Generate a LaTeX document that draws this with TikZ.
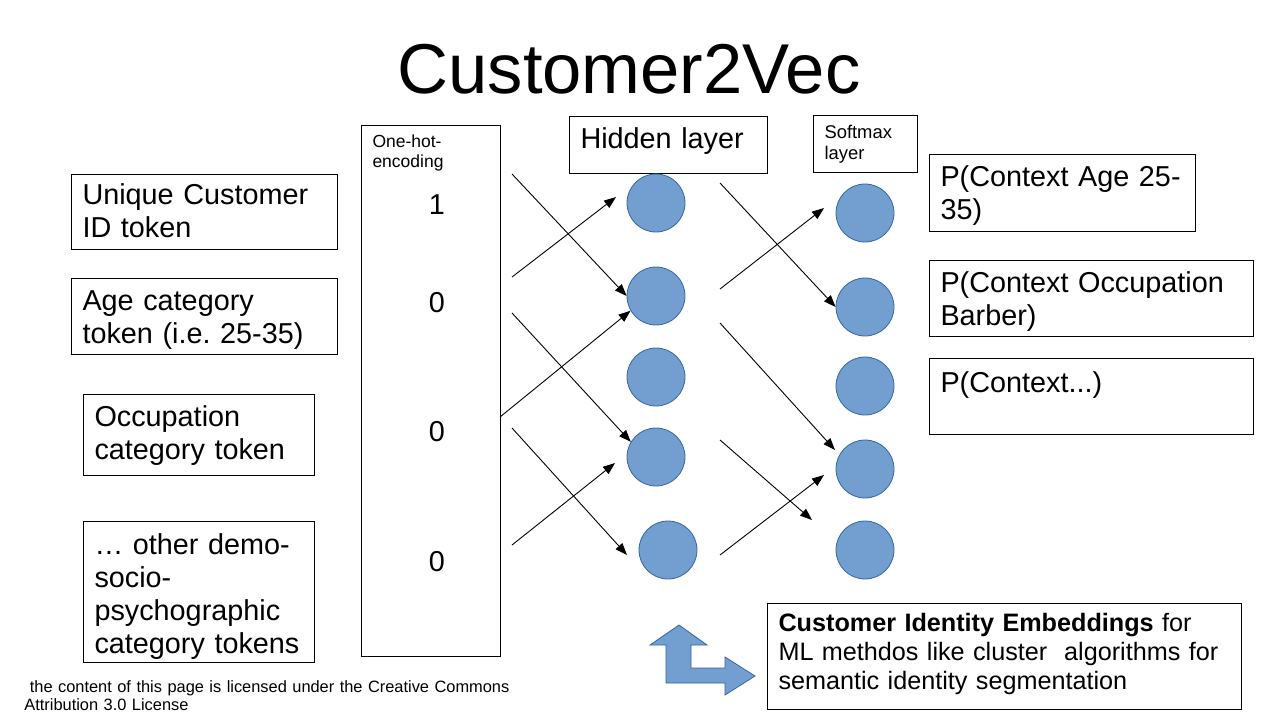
\documentclass[tikz,border=0pt]{standalone}
\usepackage{fontspec}
\setmainfont{Liberation Sans}
\usetikzlibrary{arrows.meta, positioning}

\definecolor{cellblue}{HTML}{729FCF}
\definecolor{celledge}{HTML}{3465A4}

\begin{document}
\begin{tikzpicture}[
  x=0.5pt, y=-0.5pt,
  token/.style={draw, line width=0.5pt, anchor=north west, align=left, inner xsep=5.5pt, inner ysep=0pt, font=\fontsize{14.4}{16.5}\selectfont},
  tag/.style={draw, line width=0.5pt, anchor=north west, align=left, inner xsep=5.5pt, inner ysep=0pt, font=\fontsize{9.2}{10.6}\selectfont},
  digit/.style={inner sep=0pt, font=\fontsize{14.4}{16.5}\selectfont},
  neuron/.style={circle, draw=celledge, fill=cellblue, line width=0.4pt, minimum size=29pt, inner sep=0pt},
  arrow/.style={-{Triangle[length=6pt,width=4.5pt]}, line width=0.45pt}
]
\useasboundingbox (0,0) rectangle (1262,713);

% title
\node[font=\fontsize{35.3}{40}\selectfont, anchor=base] (title) at (629,93) {Customer2Vec};

% input tokens
\node[token, text width=122pt, text height=15pt, text depth=22.5pt] (uid) at (71,174) {Unique Customer\\ID token};
\node[token, text width=122pt, text height=16pt, text depth=22pt] (age) at (71,278) {Age category\\token (i.e.\ 25-35)};
\node[token, text width=104.5pt, text height=16pt, text depth=24.5pt] (occ) at (83,394) {Occupation\\category token};
\node[token, text width=104.5pt, text height=16.5pt, text depth=54pt] (other) at (83,521) {… other demo-\\socio-\\psychographic\\category tokens};

% one-hot column
\node[tag, font=\fontsize{8.75}{9.9}\selectfont, text width=58.5pt, text height=11pt, text depth=254.5pt] (onehot) at (361,125) {One-hot-\\encoding};
\node[digit] (d1) at (437,205) {1};
\node[digit] (d2) at (437,303) {0};
\node[digit] (d3) at (437,432) {0};
\node[digit] (d4) at (437,562) {0};

% layer labels
\node[token, text width=88pt, text height=16pt, text depth=12.5pt] (hidden) at (569,116) {Hidden layer};
\node[tag, text width=41pt, text height=11.25pt, text depth=17.25pt] (softmax) at (813,115) {Softmax\\layer};

% hidden layer
\node[neuron] (h1) at (656,203) {};
\node[neuron] (h2) at (656,296) {};
\node[neuron] (h3) at (656,377) {};
\node[neuron] (h4) at (656,457) {};
\node[neuron] (h5) at (668,550) {};

% softmax layer
\node[neuron] (s1) at (865,213) {};
\node[neuron] (s2) at (865,307) {};
\node[neuron] (s3) at (865,386) {};
\node[neuron] (s4) at (865,469) {};
\node[neuron] (s5) at (865,550) {};

% context outputs
\node[token, text width=122pt, text height=16pt, text depth=22.5pt] (p1) at (929,154) {P(Context Age 25-\\35)};
\node[token, text width=151pt, text height=16pt, text depth=22pt] (p2) at (929,260) {P(Context Occupation\\Barber)};
\node[token, text width=151pt, text height=17pt, text depth=21pt] (p3) at (929,358) {P(Context...)};

% embeddings note
\node[token, font=\fontsize{12.6}{14.5}\selectfont, text width=226pt, text height=14pt, text depth=39pt] (embed) at (767,603) {\textbf{Customer Identity Embeddings} for\\ML methdos like cluster~ algorithms for\\semantic identity segmentation};

% licence line
\node[anchor=base west, align=left, inner sep=0pt, text width=260pt, font=\fontsize{8.2}{9}\selectfont] (lic) at (24,692) {\ the content of this page is licensed under the Creative Commons\\Attribution 3.0 License};

% free arrow ends
\coordinate (in1) at (512,174);
\coordinate (in2) at (512,277);
\coordinate (in3) at (512,313);
\coordinate (in4) at (500,417);
\coordinate (in5) at (512,428);
\coordinate (in6) at (512,545);
\coordinate (e2) at (616,197);
\coordinate (e5) at (627,555);
\coordinate (e6) at (615,463);
\coordinate (m1) at (720,183);
\coordinate (m2) at (720,289);
\coordinate (m3) at (720,323);
\coordinate (m4) at (720,440);
\coordinate (m5) at (720,555);
\coordinate (f2) at (824,208);
\coordinate (f3) at (835,450);
\coordinate (f4) at (812,520);
\coordinate (f5) at (824,475);

% input -> hidden
\draw[arrow] (in1) -- (h2.west);
\draw[arrow] (in2) -- (e2);
\draw[arrow] (in3) -- (h4.149);
\draw[arrow] (in4) -- (h2.210);
\draw[arrow] (in5) -- (e5);
\draw[arrow] (in6) -- (e6);

% hidden -> softmax
\draw[arrow] (m1) -- (s2.west);
\draw[arrow] (m2) -- (f2);
\draw[arrow] (m3) -- (f3);
\draw[arrow] (m4) -- (f4);
\draw[arrow] (m5) -- (f5);

% bent arrow
\draw[fill=cellblue, draw=celledge, line width=0.4pt]
  (679,625) -- (707,645) -- (691,645) -- (691,668) -- (725,668) -- (725,657)
  -- (755,676) -- (725,695) -- (725,683) -- (666,683) -- (666,645) -- (650,645) -- cycle;
\end{tikzpicture}
\end{document}
